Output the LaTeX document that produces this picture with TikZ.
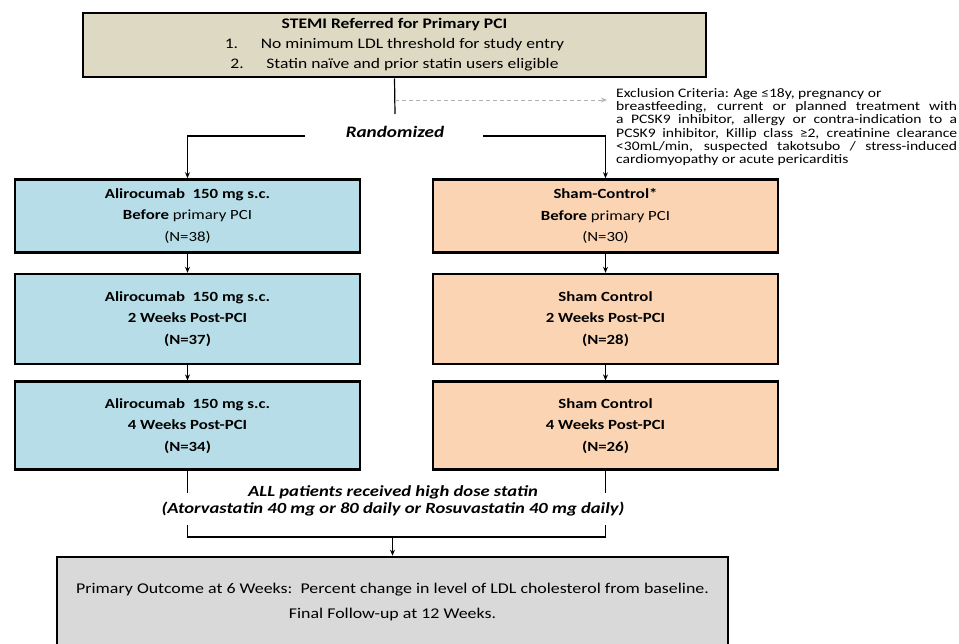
\documentclass[tikz,border=0pt]{standalone}
\usepackage{fontspec}
\setmainfont{Carlito}[FakeStretch=1.2]
\usetikzlibrary{arrows.meta,positioning}

\definecolor{stemibg}{HTML}{DDD9C3}
\definecolor{alibg}{HTML}{B7DEE8}
\definecolor{shambg}{HTML}{FBD4B4}
\definecolor{outbg}{HTML}{D9D9D9}

\begin{document}
\begin{tikzpicture}[x=1pt,y=-1pt,>={Stealth[length=6pt,width=5pt]},
    box/.style={draw,line width=2.6pt,align=center,minimum width=345pt,inner sep=2pt,
      font=\fontsize{14}{21.5}\selectfont},
    ali/.style={box,fill=alibg},
    sham/.style={box,fill=shambg},
    link/.style={line width=1.2pt},
    excl/.style={draw=gray!60,line width=0.9pt,dash pattern=on 4pt off 3pt}]
    \clip (0,0) rectangle (959,644);

    \node[box,fill=stemibg,minimum width=623pt,minimum height=64pt,font=\fontsize{14.6}{20}\selectfont]
      (stemi) at (394.5,45) {\textbf{STEMI Referred for Primary PCI}\\
      \makebox[36pt][l]{1.}No minimum LDL threshold for study entry\\
      \makebox[36pt][l]{2.}Statin naïve and prior statin users eligible};

    \node[font=\fontsize{16}{20}\selectfont\bfseries\itshape] (rand) at (395,132) {Randomized};
    \node[font=\fontsize{13}{13.2}\selectfont,text width=341pt,align=justify,inner sep=0pt,anchor=west]
      (crit) at (616,127) {Exclusion Criteria: Age ≤18y, pregnancy or\\
      breastfeeding, current or planned treatment with\linebreak
      a PCSK9 inhibitor, allergy or contra-indication to a\linebreak
      PCSK9 inhibitor, Killip class ≥2, creatinine clearance\linebreak
      <30mL/min, suspected takotsubo / stress-induced\linebreak
      cardiomyopathy or acute pericarditis};

    \node[ali,minimum height=73pt] (a1) at (187.5,216)
      {\textbf{Alirocumab\ \ 150 mg s.c.}\\ \textbf{Before} primary PCI\\ (N=38)};
    \node[ali,minimum height=90pt] (a2) [below=19pt of a1]
      {\textbf{Alirocumab\ \ 150 mg s.c.}\\ \textbf{2 Weeks Post-PCI}\\ \textbf{(N=37)}};
    \node[ali,minimum height=88pt] (a3) [below=15pt of a2]
      {\textbf{Alirocumab\ \ 150 mg s.c.}\\ \textbf{4 Weeks Post-PCI}\\ \textbf{(N=34)}};

    \node[sham,minimum height=73pt] (s1) [right=70.4pt of a1]
      {\textbf{Sham-Control*}\\ \textbf{Before} primary PCI\\ (N=30)};
    \node[sham,minimum height=90pt] (s2) [below=19pt of s1]
      {\textbf{Sham Control}\\ \textbf{2 Weeks Post-PCI}\\ \textbf{(N=28)}};
    \node[sham,minimum height=88pt] (s3) [below=15pt of s2]
      {\textbf{Sham Control}\\ \textbf{4 Weeks Post-PCI}\\ \textbf{(N=26)}};

    \node[font=\fontsize{15.5}{17}\selectfont\bfseries\itshape,align=center] (statin) at (393,501)
      {ALL patients received high dose statin\\
      (Atorvastatin 40 mg or 80 daily or Rosuvastatin 40 mg daily)};

    \node[box,fill=outbg,minimum width=671pt,minimum height=90pt,font=\fontsize{14.9}{25}\selectfont]
      (out) at (392.5,602) {Primary Outcome at 6 Weeks:\ \ Percent change in level of LDL cholesterol from baseline.\\
      Final Follow-up at 12 Weeks.};

    % randomisation
    \coordinate (split) at (395,100);
    \coordinate (rtop) at (395,114);
    \coordinate (rl) at (305,136);
    \coordinate (rr) at (483,136);
    \draw[link] (stemi.south) -- (rtop);
    \draw[excl,->] (split) -- ([xshift=-9pt]split -| crit.west);
    \draw[link,->] (rl) -| (a1.north);
    \draw[link,->] (rr) -| (s1.north);

    \path[link,->] (a1) edge (a2) (a2) edge (a3);
    \path[link,->] (s1) edge (s2) (s2) edge (s3);

    % join to outcome
    \coordinate (la) at (a3.south |- 0,493);
    \coordinate (ra) at (s3.south |- 0,493);
    \coordinate (lb) at (a3.south |- 0,525);
    \coordinate (rb) at (s3.south |- 0,525);
    \coordinate (jl) at (a3.south |- 0,537);
    \coordinate (jr) at (s3.south |- 0,537);
    \coordinate (jm) at (out.north |- jl);
    \draw[link] (a3.south) -- (la);
    \draw[link] (s3.south) -- (ra);
    \draw[link] (lb) -- (jl) -- (jr) -- (rb);
    \draw[link,->] (jm) -- (out.north);
\end{tikzpicture}
\end{document}
